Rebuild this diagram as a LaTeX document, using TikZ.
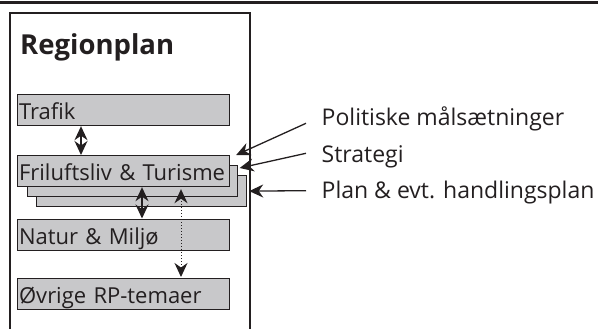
\documentclass[tikz,border=0pt]{standalone}
\usepackage{fontspec}
\setmainfont{Open Sans}
\usetikzlibrary{arrows.meta}
\definecolor{ink}{HTML}{231F20}
\definecolor{boxgray}{HTML}{C8C8CA}
\tikzset{
  tip/.tip={Stealth[length=14pt,width=13pt,inset=4.5pt]},
  rp/.style={draw=ink, fill=boxgray, line width=1.2pt, anchor=north west,
    inner xsep=1.5pt, inner ysep=0pt, text width=209pt, align=left,
    text height=25pt, text depth=6pt, text=ink,
    font=\fontsize{22}{27}\selectfont},
  shadowbox/.style={draw=ink, fill=boxgray, line width=1.2pt, anchor=north west,
    inner sep=0pt, minimum width=210pt, minimum height=31pt},
  dbl/.style={draw=ink, line width=1.3pt, tip-tip},
  dbldot/.style={draw=ink, line width=1pt, dotted, tip-tip},
  single/.style={draw=ink, line width=1.3pt, -tip},
  lbl/.style={anchor=base west, inner sep=0pt, text=ink,
    font=\fontsize{23}{27}\selectfont},
  frame/.style={draw=ink, line width=2pt},
}
\begin{document}
\begin{tikzpicture}[x=1pt,y=-1pt]
\useasboundingbox (0,0) rectangle (598,329);
% top rule
\draw[ink, line width=2.5pt] (0,2.5) -- (598,2.5);
% frame
\draw[frame] (10,331) -- (10,13.5) -- (250,13.5) -- (250,331);
\node[anchor=base west, inner sep=0pt, text=ink, font=\fontsize{27.5}{32}\selectfont\bfseries] (title) at (20,55) {Regionplan};
% boxes
\node[rp] (trafik) at (17,94) {Trafik};
\node[shadowbox] (f3) at (36,175) {};
\node[shadowbox] (f2) at (26.5,165) {};
\node[rp] (fril) at (17,155) {Friluftsliv \& Turisme};
\node[rp] (natur) at (17,218.5) {Natur \& Miljø};
\node[rp] (ovrige) at (17,278) {Øvrige RP-temaer};
% vertical connectors
\draw[dbl] ([xshift=64pt]trafik.south west) -- ([xshift=64pt]fril.north west);
\draw[dbl] ([xshift=125pt]fril.south west) -- ([xshift=125pt]natur.north west);
\draw[dbldot] ([xshift=164pt,yshift=-2pt]fril.south west) -- ([xshift=164pt,yshift=1pt]ovrige.north west);
% labels
\node[lbl] (pol) at (321.5,126) {Politiske målsætninger};
\node[lbl] (strat) at (321.5,162) {Strategi};
\node[lbl] (plan) at (321.5,198) {Plan \& evt. handlingsplan};
\coordinate (s1) at (306,123.3);
\coordinate (s2) at (306,153.3);
\coordinate (s3) at (306,190.7);
\draw[single] (s1) -- ([xshift=6pt]fril.north east);
\draw[single] (s2) -- ([xshift=2pt,yshift=-3pt]f2.north east);
\draw[single] (s3) -- ([xshift=2pt]f3.east);
\end{tikzpicture}
\end{document}
